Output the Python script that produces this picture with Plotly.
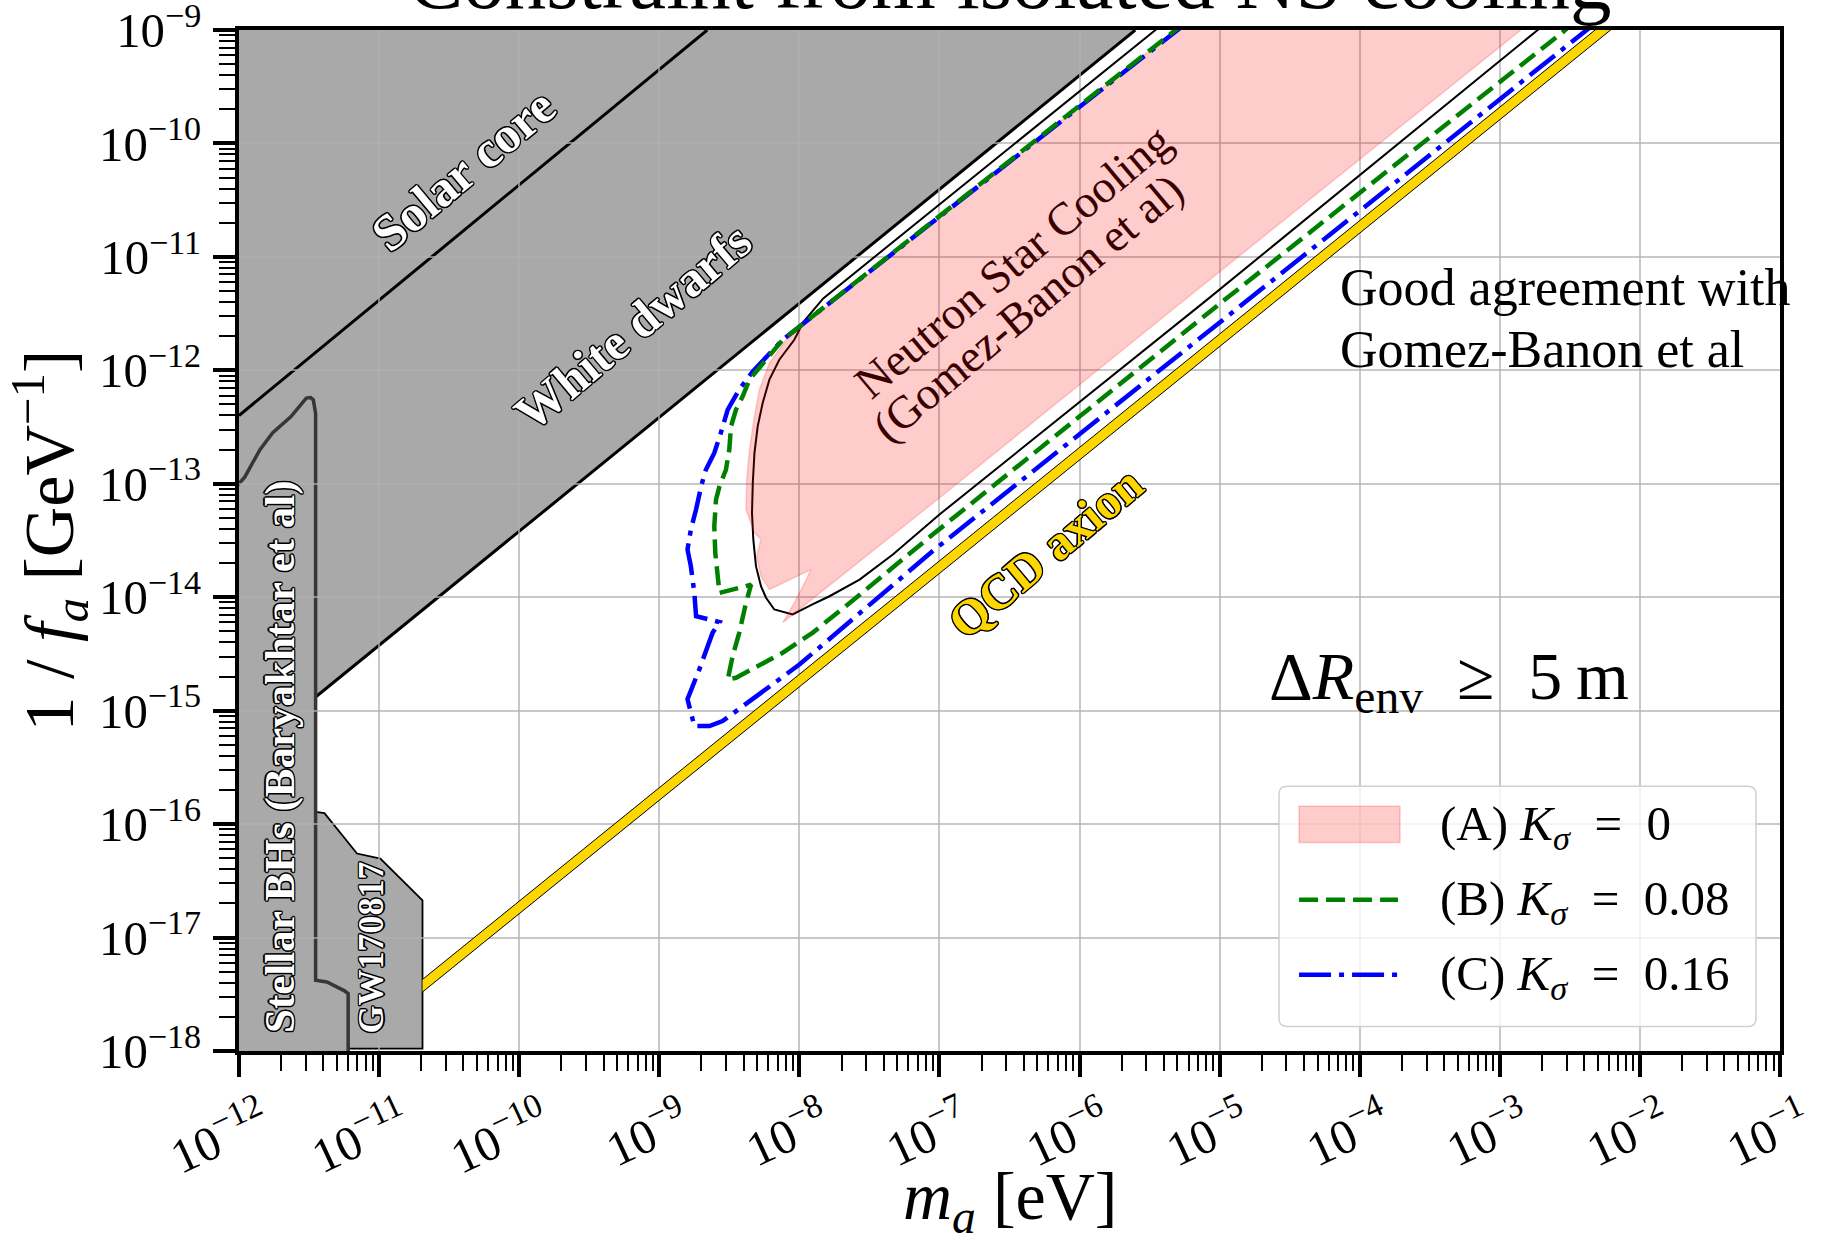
import plotly.graph_objects as go

SERIF = "Liberation Serif"

# ---------------- excluded regions (m_a in eV, 1/f_a in GeV^-1) ----------------
# Solar core bound
solar_m = [1e-12, 2.2e-9]
solar_inv_fa = [4.0e-13, 1e-9]

# White dwarf bound (lower edge of the excluded wedge)
wd_m = [3.52e-12, 2.5e-6]
wd_inv_fa = [1.32e-15, 1e-9]
wd_fill_m = [1e-12, 2.5e-6, 3.52e-12, 1e-12]
wd_fill_inv_fa = [1e-9, 1e-9, 1.32e-15, 1.32e-15]

# Stellar black-hole superradiance (Baryakhtar et al)
bh_m = [8e-13, 1e-12, 1.10e-12, 1.41e-12, 1.74e-12, 2.34e-12, 3.02e-12, 3.24e-12,
        3.39e-12, 3.52e-12, 3.52e-12, 4.24e-12, 5.66e-12, 6.01e-12, 6.01e-12, 8e-13]
bh_inv_fa = [1e-13, 1e-13, 1.15e-13, 2.0e-13, 2.82e-13, 3.89e-13, 5.69e-13, 5.75e-13,
             5.5e-13, 4.17e-13, 4.2e-18, 4.06e-18, 3.39e-18, 3.2e-18, 5e-19, 5e-19]

# GW170817
gw_m = [3.52e-12, 4.07e-12, 6.95e-12, 1.02e-11, 2.04e-11, 2.04e-11, 6.01e-12, 6.01e-12, 3.52e-12]
gw_inv_fa = [1.28e-16, 1.25e-16, 5.5e-17, 4.97e-17, 2.13e-17, 1.05e-18, 1.05e-18, 3.2e-18, 4.2e-18]

# QCD axion band
qcd_m = [2.04e-11, 1e-2]
qcd_lo = [3.31e-18, 1.62e-9]
qcd_hi = [4.27e-18, 2.09e-9]

# ---------------- neutron-star cooling constraints ----------------
# (A) K_sigma = 0  (Gomez-Banon et al region)
ns_a_m = [5.89e-6, 4.84e-6, 1.19e-8, 8.04e-9, 6.11e-9, 5.18e-9, 4.78e-9, 4.40e-9, 4.21e-9,
          4.16e-9, 4.78e-9, 5.32e-9, 4.95e-9, 5.32e-9, 6.11e-9, 1.21e-8, 1.09e-8, 9.2e-9,
          7.60e-9, 1.0e-7, 5.60e-6, 1.39e-3, 1.7e-3]
ns_a_inv_fa = [1.2e-9, 1e-9, 2.77e-12, 1.86e-12, 1.16e-12, 6.76e-13, 3.94e-13, 2.0e-13, 1.09e-13,
               5.93e-14, 3.69e-14, 3.23e-14, 2.30e-14, 1.53e-14, 1.17e-14, 1.75e-14, 1.34e-14, 8.93e-15,
               5.96e-15, 7.52e-14, 4.16e-12, 9.66e-10, 1.2e-9]

# K_sigma = 0 contour of this analysis
k0_m = [3.98e-6, 3.48e-6, 1.48e-8, 1.07e-8, 9.2e-9, 7.19e-9, 6.11e-9, 5.47e-9, 5.04e-9, 4.78e-9,
        4.65e-9, 4.59e-9, 4.69e-9, 4.90e-9, 5.32e-9, 5.78e-9, 6.62e-9, 8.95e-9, 1.24e-8, 1.64e-8,
        2.69e-8, 4.65e-8, 1.0e-7, 8.07e-6, 1.80e-3, 2.09e-3]
k0_inv_fa = [1.15e-9, 1e-9, 4.31e-12, 2.68e-12, 1.86e-12, 1.24e-12, 8.28e-13, 5.15e-13, 3.21e-13, 1.87e-13,
             1.02e-13, 5.53e-14, 3.23e-14, 1.88e-14, 1.25e-14, 9.89e-15, 7.8e-15, 7.05e-15, 8.63e-15, 1.02e-14,
             1.43e-14, 2.38e-14, 5.36e-14, 4.16e-12, 9.66e-10, 1.12e-9]

# (B) K_sigma = 0.08
ns_b_m = [5.62e-6, 4.84e-6, 7.60e-9, 5.18e-9, 4.40e-9, 3.94e-9, 3.53e-9, 3.25e-9, 3.16e-9, 2.99e-9,
          2.69e-9, 2.54e-9, 2.47e-9, 2.51e-9, 2.61e-9, 2.69e-9, 3.72e-9, 4.52e-9, 4.16e-9, 3.72e-9,
          3.34e-9, 3.08e-9, 3.53e-9, 7.60e-9, 1.24e-8, 2.54e-8, 8.95e-8, 1.08e-5, 2.84e-3, 3.24e-3]
ns_b_inv_fa = [1.15e-9, 1e-9, 1.86e-12, 1.08e-12, 8.28e-13, 5.90e-13, 4.51e-13, 3.21e-13, 2.0e-13, 1.33e-13,
               9.5e-14, 7.26e-14, 4.23e-14, 2.46e-14, 1.64e-14, 1.09e-14, 1.21e-14, 1.29e-14, 8.93e-15, 4.85e-15,
               3.03e-15, 1.88e-15, 1.95e-15, 3.24e-15, 4.85e-15, 9.89e-15, 3.57e-14, 4.16e-12, 9.66e-10, 1.12e-9]

# (C) K_sigma = 0.16
ns_c_m = [5.75e-6, 5.01e-6, 7.60e-9, 4.65e-9, 3.72e-9, 3.08e-9, 2.75e-9, 2.47e-9, 2.15e-9, 1.99e-9,
          1.83e-9, 1.68e-9, 1.59e-9, 1.68e-9, 1.78e-9, 1.83e-9, 2.69e-9, 2.40e-9, 1.93e-9, 1.59e-9,
          1.78e-9, 2.28e-9, 2.83e-9, 1.0e-8, 8.95e-8, 4.06e-3, 4.68e-3]
ns_c_inv_fa = [1.15e-9, 1e-9, 1.86e-12, 9.79e-13, 6.76e-13, 4.51e-13, 2.81e-13, 1.87e-13, 1.33e-13, 9.5e-14,
               5.93e-14, 3.95e-14, 2.63e-14, 1.88e-14, 1.09e-14, 6.81e-15, 6.03e-15, 4.85e-15, 2.31e-15, 1.26e-15,
               7.31e-16, 7.31e-16, 8.09e-16, 2.55e-15, 2.55e-14, 9.66e-10, 1.12e-9]

EQ = "\u2002=\u2002"
legend_labels = ["(A) <i>K</i><sub><i>σ</i></sub>" + EQ + "0",
                 "(B) <i>K</i><sub><i>σ</i></sub>" + EQ + "0.08",
                 "(C) <i>K</i><sub><i>σ</i></sub>" + EQ + "0.16"]

GRAY = "#a9a9a9"
PINK = "rgba(255,0,0,0.2)"
GREEN = "#008000"
BLUE = "#0000ff"
GOLD = "#ffd700"
OUTLINE = ("1.5px 0 0 #000, -1.5px 0 0 #000, 0 1.5px 0 #000, 0 -1.5px 0 #000, "
           "1px 1px 0 #000, -1px -1px 0 #000, 1px -1px 0 #000, -1px 1px 0 #000")


def svg_path(xs, ys):
    pts = [f"{x:.5e},{y:.5e}" for x, y in zip(xs, ys)]
    return "M" + " L".join(pts) + " Z"


fig = go.Figure()

# gray excluded regions sit beneath the grid
shapes = [
    dict(type="path", path=svg_path(wd_fill_m, wd_fill_inv_fa), xref="x", yref="y",
         fillcolor=GRAY, line=dict(width=0), layer="below"),
    dict(type="line", x0=solar_m[0], x1=solar_m[1], y0=solar_inv_fa[0], y1=solar_inv_fa[1],
         xref="x", yref="y", line=dict(color="black", width=3), layer="below"),
    dict(type="line", x0=wd_m[0], x1=wd_m[1], y0=wd_inv_fa[0], y1=wd_inv_fa[1],
         xref="x", yref="y", line=dict(color="black", width=3), layer="below"),
    dict(type="path", path=svg_path(gw_m, gw_inv_fa), xref="x", yref="y",
         fillcolor=GRAY, line=dict(color="black", width=1.8), layer="below"),
    dict(type="path", path=svg_path(bh_m, bh_inv_fa), xref="x", yref="y",
         fillcolor=GRAY, line=dict(color="#363636", width=3.5), layer="below"),
]

# QCD axion band
fig.add_trace(go.Scatter(x=qcd_m, y=qcd_lo, mode="lines",
                         line=dict(color="black", width=1), hoverinfo="skip"))
fig.add_trace(go.Scatter(x=qcd_m, y=qcd_hi, mode="lines", fill="tonexty", fillcolor=GOLD,
                         line=dict(color="black", width=1), hoverinfo="skip"))

# K_sigma = 0 contour (under the shaded region)
fig.add_trace(go.Scatter(x=k0_m, y=k0_inv_fa, mode="lines",
                         line=dict(color="black", width=2)))

# (A) shaded region
fig.add_trace(go.Scatter(x=ns_a_m, y=ns_a_inv_fa, mode="lines", fill="toself", fillcolor=PINK,
                         line=dict(color="rgba(255,0,0,0.18)", width=1.5), name=legend_labels[0]))

# (C) and (B) contours
fig.add_trace(go.Scatter(x=ns_c_m, y=ns_c_inv_fa, mode="lines",
                         line=dict(color=BLUE, width=4.5, dash="32px,8px,5px,8px"),
                         name=legend_labels[2]))
fig.add_trace(go.Scatter(x=ns_b_m, y=ns_b_inv_fa, mode="lines",
                         line=dict(color=GREEN, width=4.5, dash="19px,8px"),
                         name=legend_labels[1]))

# ---------------- legend box ----------------
lx0, lx1, ly0, ly1, rx, ry = 0.6749, 0.9844, 0.0241, 0.2592, 0.0052, 0.0078
box = (f"M{lx0+rx},{ly0} L{lx1-rx},{ly0} Q{lx1},{ly0} {lx1},{ly0+ry} "
       f"L{lx1},{ly1-ry} Q{lx1},{ly1} {lx1-rx},{ly1} L{lx0+rx},{ly1} "
       f"Q{lx0},{ly1} {lx0},{ly1-ry} L{lx0},{ly0+ry} Q{lx0},{ly0} {lx0+rx},{ly0} Z")
shapes += [
    dict(type="path", path=box, xref="paper", yref="paper", layer="above",
         fillcolor="rgba(255,255,255,0.8)", line=dict(color="#d0d0d0", width=1.5)),
    dict(type="rect", x0=0.6879, x1=0.7534, y0=0.2043, y1=0.2396, xref="paper", yref="paper",
         layer="above", fillcolor=PINK, line=dict(color="rgba(255,0,0,0.2)", width=1.5)),
    dict(type="line", x0=0.6879, x1=0.7521, y0=0.1482, y1=0.1482, xref="paper", yref="paper",
         layer="above", line=dict(color=GREEN, width=4.5, dash="19px,8px")),
    dict(type="line", x0=0.6879, x1=0.7521, y0=0.0747, y1=0.0747, xref="paper", yref="paper",
         layer="above", line=dict(color=BLUE, width=4.5, dash="32px,8px,5px,8px")),
]

annotations = []
for lab, yy in zip(legend_labels, [0.2197, 0.1463, 0.0728]):
    annotations.append(dict(text=lab, x=0.7778, y=yy, xref="paper", yref="paper",
                            xanchor="left", yanchor="middle", showarrow=False,
                            font=dict(family=SERIF, size=49, color="black")))

# ---------------- in-plot labels (positions in decades on the log axes) ----------------
def label(text, x, y, size, color, angle, bold=False, outline=False, **kw):
    f = dict(family=SERIF, size=size, color=color)
    if bold:
        f["weight"] = "bold"
    if outline:
        f["shadow"] = OUTLINE
    d = dict(text=text, x=x, y=y, xref="x", yref="y", showarrow=False,
             textangle=angle, font=f)
    d.update(kw)
    annotations.append(d)


label("Solar core", -10.40, -10.23, 51, "white", -40, bold=True, outline=True)
label("White dwarfs", -9.19, -11.62, 50, "white", -40, bold=True, outline=True)
label("Stellar BHs (Baryakhtar et al)", -11.708, -15.40, 43, "white", -90, bold=True, outline=True)
label("GW170817", -11.059, -17.09, 36, "white", -90, bold=True, outline=True)
label("Neutron Star Cooling", -6.476, -11.04, 46, "#3a0000", -40)
label("(Gomez-Banon et al)", -6.365, -11.45, 46, "#3a0000", -40)
label("QCD axion", -6.241, -13.61, 49, GOLD, -40, bold=True, outline=True)
label("Good agreement with", -4.155, -11.267, 52, "black", 0, xanchor="left")
label("Gomez-Banon et al", -4.155, -11.814, 52, "black", 0, xanchor="left")
label("Δ<i>R</i><sub>env</sub>\u2002\u2265\u20025\u2009m", -3.361, -14.73, 68, "black", 0)

# title (runs off the top of the page)
annotations.append(dict(text="Constraint from isolated NS cooling", x=0.5, y=1,
                        xref="paper", yref="paper", xanchor="center", yanchor="bottom",
                        yshift=2, showarrow=False,
                        font=dict(family=SERIF, size=83, color="black")))

# x-axis title, set below the rotated tick labels
annotations.append(dict(text="<i>m</i><sub><i>a</i></sub> [eV]", x=0.5, y=0,
                        xref="paper", yref="paper", xanchor="center", yanchor="middle",
                        yshift=-149, showarrow=False,
                        font=dict(family=SERIF, size=68, color="black")))

axis_common = dict(
    type="log", dtick=1, exponentformat="power", showexponent="all", automargin=False,
    showline=True, linecolor="black", linewidth=4, mirror=True,
    ticks="outside", ticklen=22, tickwidth=4, tickcolor="black",
    tickfont=dict(family=SERIF, size=39, color="black"), ticklabeloverflow="allow",
    showgrid=True, gridcolor="rgba(176,176,176,0.7)", gridwidth=1.5, zeroline=False,
    minor=dict(ticks="outside", ticklen=16, tickwidth=2, tickcolor="black",
               dtick="D1", showgrid=False),
)

fig.update_layout(
    width=1821, height=1239, autosize=False,
    margin=dict(l=239, r=41, t=30, b=188, autoexpand=False),
    plot_bgcolor="white", paper_bgcolor="white",
    showlegend=False,
    shapes=shapes, annotations=annotations,
    xaxis=dict(axis_common, range=[-12.0003, -0.9997], tickangle=-25, ticklabelshift=24),
    yaxis=dict(axis_common, range=[-18.0003, -8.9997], ticklabelstandoff=4,
               title=dict(text="1 / <i>f</i><sub><i>a</i></sub> [GeV<sup>\u22121</sup>]",
                          font=dict(family=SERIF, size=70, color="black"))),
)

fig.write_html("out.html")
